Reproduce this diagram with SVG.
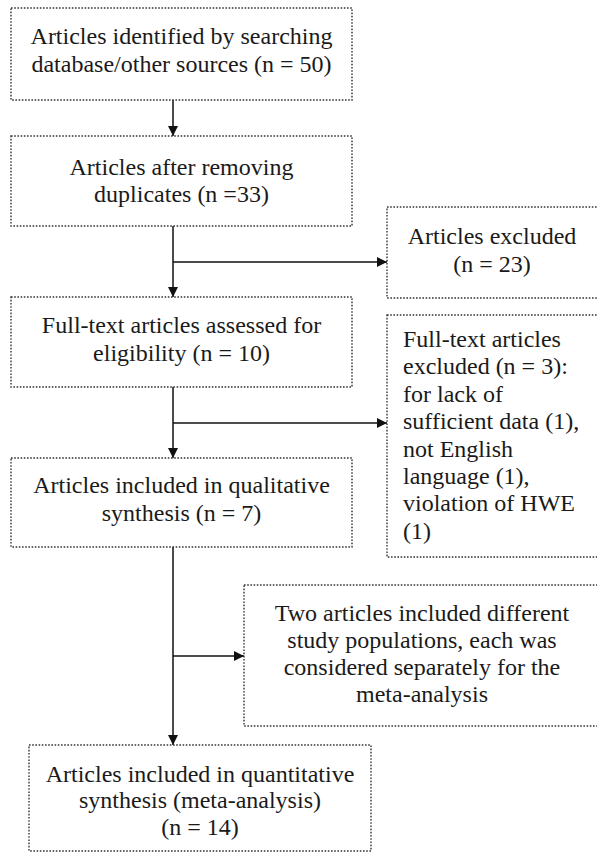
<svg xmlns="http://www.w3.org/2000/svg" width="597" height="852" viewBox="0 0 597 852">
<defs>
<style>
.box{fill:#fff;stroke:#333;stroke-width:1.4;stroke-dasharray:1.6 1.6}
text{font-family:'Liberation Serif','DejaVu Serif',serif;font-size:24px;fill:#1a1a1a}
.c{text-anchor:middle}
.ln{fill:none;stroke:#111;stroke-width:1.5}
</style>
<marker id="ah" viewBox="0 0 10 10" refX="10" refY="5" markerWidth="10" markerHeight="10" markerUnits="userSpaceOnUse" orient="auto">
<path d="M0,0 L10,5 L0,10 z" fill="#111"/>
</marker>
</defs>
<rect width="597" height="852" fill="#fff"/>
<g id="connectors">
<line class="ln" x1="173" y1="100" x2="173" y2="136" marker-end="url(#ah)"/>
<line class="ln" x1="173" y1="226" x2="173" y2="297" marker-end="url(#ah)"/>
<line class="ln" x1="173" y1="262" x2="387" y2="262" marker-end="url(#ah)"/>
<line class="ln" x1="173" y1="387" x2="173" y2="458" marker-end="url(#ah)"/>
<line class="ln" x1="173" y1="423" x2="387" y2="423" marker-end="url(#ah)"/>
<line class="ln" x1="173" y1="547" x2="173" y2="745" marker-end="url(#ah)"/>
<line class="ln" x1="173" y1="656" x2="244" y2="656" marker-end="url(#ah)"/>
</g>
<g id="identified" font-family="Liberation Serif, serif">
<rect class="box" x="11" y="8" width="341" height="92"/>
<text class="c" x="181.5" y="44">Articles identified by searching</text>
<text class="c" x="181.5" y="72">database/other sources (n = 50)</text>
</g>
<g id="duplicates">
<rect class="box" x="11" y="136" width="341" height="90"/>
<text class="c" x="181.5" y="175">Articles after removing</text>
<text class="c" x="181.5" y="202">duplicates (n =33)</text>
</g>
<g id="excluded">
<rect class="box" x="387" y="207" width="213" height="91"/>
<text class="c" x="492" y="244">Articles excluded</text>
<text class="c" x="492" y="272">(n = 23)</text>
</g>
<g id="fulltext">
<rect class="box" x="11" y="297" width="341" height="90"/>
<text class="c" x="181.5" y="333">Full-text articles assessed for</text>
<text class="c" x="181.5" y="361">eligibility (n = 10)</text>
</g>
<g id="fulltext-excluded">
<rect class="box" x="387" y="315" width="213" height="242"/>
<text x="403" y="347">Full-text articles</text>
<text x="403" y="374.4">excluded (n = 3):</text>
<text x="403" y="401.8">for lack of</text>
<text x="403" y="429.2">sufficient data (1),</text>
<text x="403" y="456.6">not English</text>
<text x="403" y="484">language (1),</text>
<text x="403" y="511.4">violation of HWE</text>
<text x="403" y="538.8">(1)</text>
</g>
<g id="qualitative">
<rect class="box" x="11" y="458" width="341" height="89"/>
<text class="c" x="181.5" y="493">Articles included in qualitative</text>
<text class="c" x="181.5" y="521">synthesis (n = 7)</text>
</g>
<g id="populations">
<rect class="box" x="244" y="585" width="356" height="141"/>
<text class="c" x="422" y="621">Two articles included different</text>
<text class="c" x="422" y="648">study populations, each was</text>
<text class="c" x="422" y="675">considered separately for the</text>
<text class="c" x="422" y="702">meta-analysis</text>
</g>
<g id="quantitative">
<rect class="box" x="29" y="745" width="342" height="106"/>
<text class="c" x="200" y="782">Articles included in quantitative</text>
<text class="c" x="200" y="808">synthesis (meta-analysis)</text>
<text class="c" x="200" y="835">(n = 14)</text>
</g>
</svg>
